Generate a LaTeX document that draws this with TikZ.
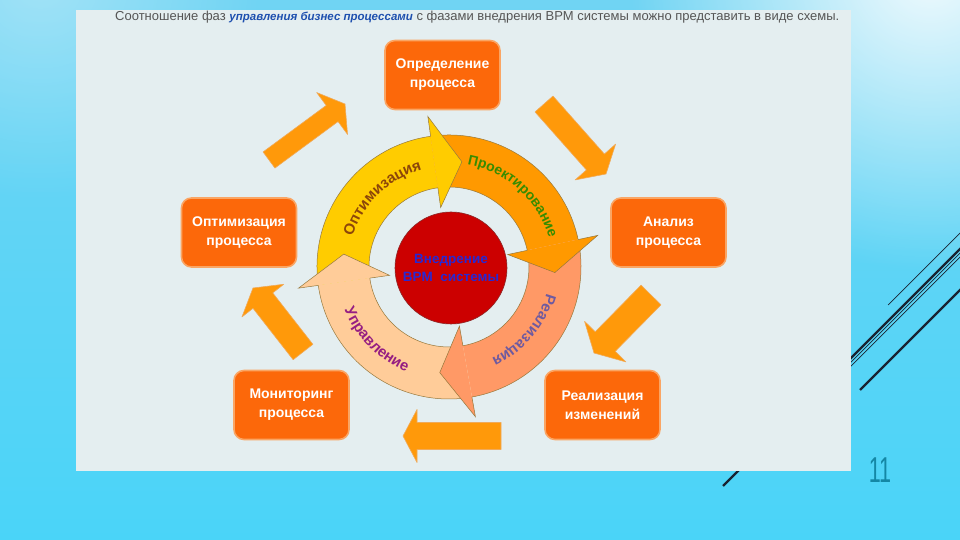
\documentclass[tikz,border=0pt]{standalone}
\usepackage{fontspec}
\usepackage{graphicx}
\setmainfont{Liberation Sans}
\usetikzlibrary{calc,decorations.text,fadings}
\definecolor{bgtop}{RGB}{112,212,243}
\definecolor{bgbot}{RGB}{74,212,248}
\definecolor{panelc}{RGB}{228,238,240}
\definecolor{txtgray}{RGB}{85,85,85}
\definecolor{txtblue}{RGB}{30,80,175}
\definecolor{boxfill}{RGB}{252,104,10}
\definecolor{boxedge}{RGB}{250,165,100}
\definecolor{arrowfill}{RGB}{255,153,10}
\definecolor{arrowedge}{RGB}{240,170,90}
\definecolor{ringedge}{RGB}{150,120,60}
\definecolor{ryellow}{RGB}{255,204,0}
\definecolor{rorange}{RGB}{255,153,0}
\definecolor{rsalmon}{RGB}{255,153,102}
\definecolor{rpeach}{RGB}{255,204,153}
\definecolor{redc}{RGB}{204,0,0}
\definecolor{redline}{RGB}{140,40,40}
\definecolor{centc}{RGB}{40,40,210}
\definecolor{optc}{RGB}{140,70,10}
\definecolor{proc}{RGB}{55,140,0}
\definecolor{realc}{RGB}{110,90,160}
\definecolor{uprc}{RGB}{150,30,130}
\definecolor{decline}{RGB}{25,35,50}
\definecolor{numc}{RGB}{20,135,165}
\tikzfading[name=glowfade, inner color=transparent!0, outer color=transparent!100]
\newcommand\ringfont{\fontsize{15}{15}\selectfont\bfseries}
\newcommand\ringfontb{\fontsize{14}{14}\selectfont\bfseries}
\newcommand\blockarrow[5]{%
  \coordinate (H) at ($(#2)!#5!(#1)$);
  \filldraw[barrow] ($(#1)!#3!90:(#2)$) -- ($(H)!#3!90:(#2)$) -- ($(H)!#4!90:(#2)$) -- (#2)
     -- ($(H)!#4!-90:(#2)$) -- ($(H)!#3!-90:(#2)$) -- ($(#1)!#3!-90:(#2)$) -- cycle;
}
\newcommand\ringbody[3]{%
  \fill[#1] ([shift={(C)}]#2:80) arc[start angle=#2, end angle=#3, radius=80]
     -- ([shift={(C)}]#3:132) arc[start angle=#3, end angle=#2, radius=132] -- cycle;
  \draw[ringline] ([shift={(C)}]#2:132) arc[start angle=#2, end angle=#3, radius=132];
  \draw[ringline] ([shift={(C)}]#2:80) arc[start angle=#2, end angle=#3, radius=80];
}
\newcommand\ringhead[2]{%
  \fill[#1] ([shift={(C)}]#2:60) -- ([shift={(C)}]#2:152) -- ([shift={(C)}]#2-15:106) -- cycle;
  \draw[ringline] ([shift={(C)}]#2:80) -- ([shift={(C)}]#2:60) -- ([shift={(C)}]#2-15:106)
     -- ([shift={(C)}]#2:152) -- ([shift={(C)}]#2:132);
}
\tikzset{
  boxst/.style={draw=boxedge, line width=1.6pt, fill=boxfill, rounded corners=10pt,
    minimum width=115pt, minimum height=69pt, text=white,
    font=\fontsize{14}{19}\selectfont\bfseries, align=center, inner sep=0pt},
  barrow/.style={fill=arrowfill, draw=arrowedge, line width=0.6pt, line join=round},
  ringline/.style={draw=ringedge, line width=0.5pt},
  decthick/.style={draw=decline, line width=2.4pt},
  decthin/.style={draw=decline, line width=0.7pt},
}
\begin{document}
\begin{tikzpicture}[x=1pt,y=1pt]
\useasboundingbox (0,0) rectangle (960,540);
% background
\shade[top color=bgtop, bottom color=bgbot] (0,0) rectangle (960,540);
\fill[white, path fading=glowfade, fill opacity=0.9] (930,570) circle (300);
\fill[white, path fading=glowfade, fill opacity=0.35] (40,560) circle (220);
% decorative lines
\coordinate (d1s) at (723,54);  \coordinate (d1e) at (990,321);
\coordinate (d2s) at (800,127); \coordinate (d2e) at (990,317);
\coordinate (d3s) at (800,123); \coordinate (d3e) at (990,313);
\coordinate (d4s) at (888,235); \coordinate (d4e) at (990,337);
\coordinate (d5s) at (860,150); \coordinate (d5e) at (990,280);
\draw[decthin] (d2s) -- (d2e);
\draw[decthin] (d3s) -- (d3e);
\draw[decthin] (d4s) -- (d4e);
\draw[decthick] (d1s) -- (d1e);
\draw[decthick] (d5s) -- (d5e);
% panel
\fill[panelc] (76,69) rectangle (851,530);
% page number
\node[text=numc, font=\fontsize{36}{36}\selectfont, inner sep=0pt] (pg) at (880,70) {\scalebox{0.6}[1]{11}};
% top text
\node[anchor=base west, inner sep=0pt, text=txtgray, font=\fontsize{13}{13}\selectfont] (title) at (115,519)
  {Соотношение фаз {\color{txtblue}\bfseries\itshape\fontsize{11.5}{12}\selectfont управления бизнес процессами} с фазами внедрения BPM системы можно представить в виде схемы.};
% boxes
\node[boxst] (def) at (442.5,465) {Определение\\процесса};
\node[boxst] (anl) at (668.5,307.5) {Анализ\\процесса};
\node[boxst] (rea) at (602.5,135) {Реализация\\изменений};
\node[boxst] (mon) at (291.5,135) {Мониторинг\\процесса};
\node[boxst] (opt) at (239,307.5) {Оптимизация\\процесса};
% block arrows
\coordinate (a1s) at (269,380); \coordinate (a1t) at (345,436);
\coordinate (a2s) at (544,436); \coordinate (a2t) at (606,366);
\coordinate (a3s) at (651,245); \coordinate (a3t) at (594,187);
\coordinate (a4s) at (501,104); \coordinate (a4t) at (403,104);
\coordinate (a5s) at (303,188); \coordinate (a5t) at (253,252);
\blockarrow{a1s}{a1t}{10pt}{26pt}{16pt}
\blockarrow{a2s}{a2t}{12pt}{27pt}{16pt}
\blockarrow{a3s}{a3t}{14pt}{29pt}{16pt}
\blockarrow{a4s}{a4t}{13.5pt}{26.5pt}{14pt}
\blockarrow{a5s}{a5t}{12.5pt}{26.5pt}{16pt}
% ring
\coordinate (C) at (449,273);
\ringbody{ryellow}{188}{98}
\ringbody{rorange}{98}{12}
\ringbody{rsalmon}{12}{-80}
\ringbody{rpeach}{-80}{-172}
\ringhead{ryellow}{98}
\ringhead{rorange}{12}
\ringhead{rsalmon}{-80}
\ringhead{rpeach}{188}
% ring texts
\path[decorate, decoration={text along path, text align=center,
  text={|\ringfont\color{optc}|Оптимизация}}]
  ([shift={(C)}]176:101) arc[start angle=176, end angle=92, radius=101];
\path[decorate, decoration={text along path, text align=center,
  text={|\ringfontb\color{proc}|Проектирование}}]
  ([shift={(C)}]94:104) arc[start angle=94, end angle=2, radius=104];
\path[decorate, decoration={text along path, text align=center,
  text={|\ringfont\color{realc}|Реализация}}]
  ([shift={(C)}]2:101) arc[start angle=2, end angle=-82, radius=101];
\path[decorate, decoration={text along path, text align=center,
  text={|\ringfont\color{uprc}|Управление}}]
  ([shift={(C)}]183:113) arc[start angle=183, end angle=267, radius=113];
% centre
\node[circle, fill=redc, draw=redline, line width=0.6pt, minimum size=112pt, inner sep=0pt,
  text=centc, font=\fontsize{13.5}{18}\selectfont\bfseries, align=center] (core) at (451,272)
  {Внедрение\\BPM\ \ системы};
\end{tikzpicture}
\end{document}
